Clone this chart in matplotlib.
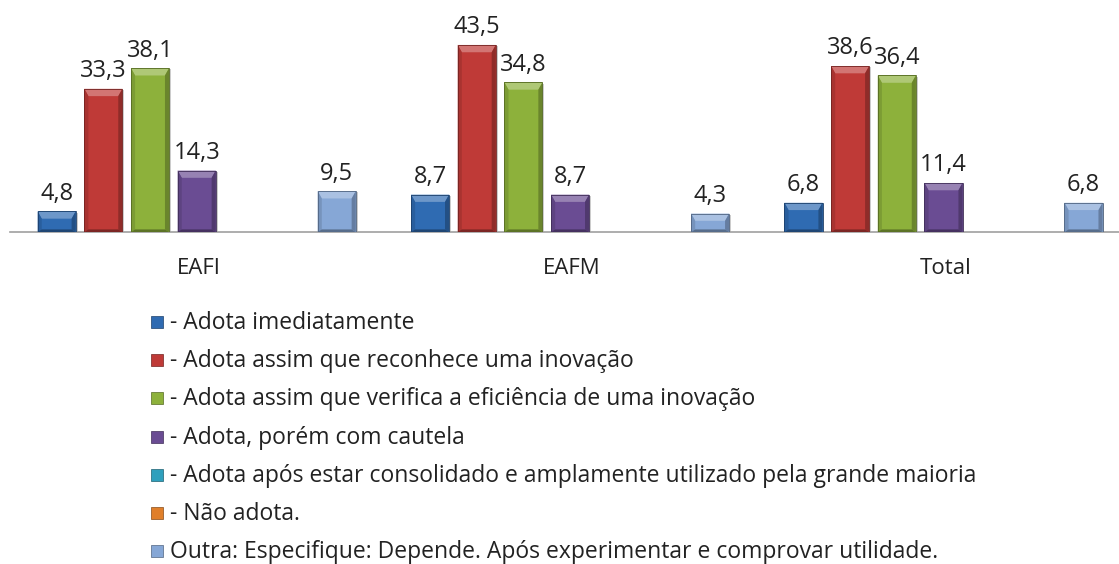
import matplotlib
matplotlib.use("Agg")
import matplotlib.pyplot as plt
from matplotlib.patches import Polygon, Rectangle
from matplotlib.colors import to_rgb
import numpy as np

# survey answers: share of respondents (%) per group
groups = ["EAFI", "EAFM", "Total"]
series_labels = [
    "- Adota imediatamente",
    "- Adota assim que reconhece uma inovação",
    "- Adota assim que verifica a eficiência de uma inovação",
    "- Adota, porém com cautela",
    "- Adota após estar consolidado e amplamente utilizado pela grande maioria",
    "- Não adota.",
    "Outra: Especifique: Depende. Após experimentar e comprovar utilidade.",
]
imediatamente = [4.8, 8.7, 6.8]
reconhece = [33.3, 43.5, 38.6]
verifica = [38.1, 34.8, 36.4]
cautela = [14.3, 8.7, 11.4]
consolidado = [0, 0, 0]
nao_adota = [0, 0, 0]
outra = [9.5, 4.3, 6.8]
values = [imediatamente, reconhece, verifica, cautela, consolidado, nao_adota, outra]

colors = ["#2f6bb2", "#bf3a37", "#8db13b", "#6a4c93", "#2fa0bd", "#e07f2a", "#86a7d6"]

plt.rcParams['font.family'] = ['Open Sans', 'DejaVu Sans']

fig = plt.figure(figsize=(11.19, 5.64), dpi=100)
W, H = 1119, 564
ax = fig.add_axes([10 / W, (H - 232) / H, 1109 / W, 215 / H])

slot = 0.125
bw = 0.102
x = np.arange(len(groups))


def shade(c, f):
    r, g, b = to_rgb(c)
    if f > 0:
        return (r + (1 - r) * f, g + (1 - g) * f, b + (1 - b) * f)
    return (r * (1 + f), g * (1 + f), b * (1 + f))


bx, by = 0.011, 1.7  # bevel size in data units
for i, (vals, col) in enumerate(zip(values, colors)):
    pos = x + (i - 3) * slot
    bars = ax.bar(pos, vals, width=bw, color=col, linewidth=0, zorder=3)
    for rect, v in zip(bars, vals):
        if v <= 0:
            continue
        x0 = rect.get_x()
        x1 = x0 + rect.get_width()
        # soft drop shadow
        ax.add_patch(Rectangle((x0 + 0.003, 0), x1 - x0 + 0.002, v - 0.3,
                               color="#9a9a9a", alpha=0.5, zorder=2, lw=0))
        # bevel faces
        ax.add_patch(Polygon([(x0, v), (x1, v), (x1 - bx, v - by), (x0 + bx, v - by)],
                             closed=True, color=shade(col, 0.3), lw=0, zorder=4))
        ax.add_patch(Polygon([(x0, 0), (x0, v), (x0 + bx, v - by), (x0 + bx, 0.6)],
                             closed=True, color=shade(col, -0.12), lw=0, zorder=4))
        ax.add_patch(Polygon([(x1, 0), (x1, v), (x1 - bx, v - by), (x1 - bx, 0.6)],
                             closed=True, color=shade(col, -0.25), lw=0, zorder=4))
        ax.add_patch(Polygon([(x0, 0), (x1, 0), (x1 - bx, 0.6), (x0 + bx, 0.6)],
                             closed=True, color=shade(col, -0.35), lw=0, zorder=4))
        ax.add_patch(Rectangle((x0, 0), x1 - x0, v, fill=False,
                               ec=shade(col, -0.4), lw=0.6, zorder=5))
        ax.annotate(f"{v:.1f}".replace(".", ","), (rect.get_x() + rect.get_width() / 2, v),
                    xytext=(0, 4), textcoords="offset points", ha="center", va="bottom",
                    fontsize=17, color="#222222")

ax.set_xlim(-0.5, 2.47)
ax.set_ylim(0, 50)
ax.set_xticks(x + 0.005)
ax.set_xticklabels(groups, fontsize=16, color="#222222")
ax.tick_params(axis="x", length=0, pad=19)
ax.set_yticks([])
for s in ["top", "right", "left"]:
    ax.spines[s].set_visible(False)
ax.spines["bottom"].set_color("#a0a0a0")
ax.spines["bottom"].set_linewidth(1.2)

# legend as a stacked list under the plot
for i, (lab, col) in enumerate(zip(series_labels, colors)):
    base = 329 + 38.2 * i
    fig.patches.append(Rectangle((151 / W, (H - base + 1) / H), 12 / W, 12 / H,
                                 transform=fig.transFigure, color=col, lw=0.5,
                                 ec=shade(col, -0.4)))
    fig.text(170 / W, (H - base) / H, lab, fontsize=16.5, va="baseline", ha="left",
             color="#222222")

fig.savefig("out.png", dpi=100)
